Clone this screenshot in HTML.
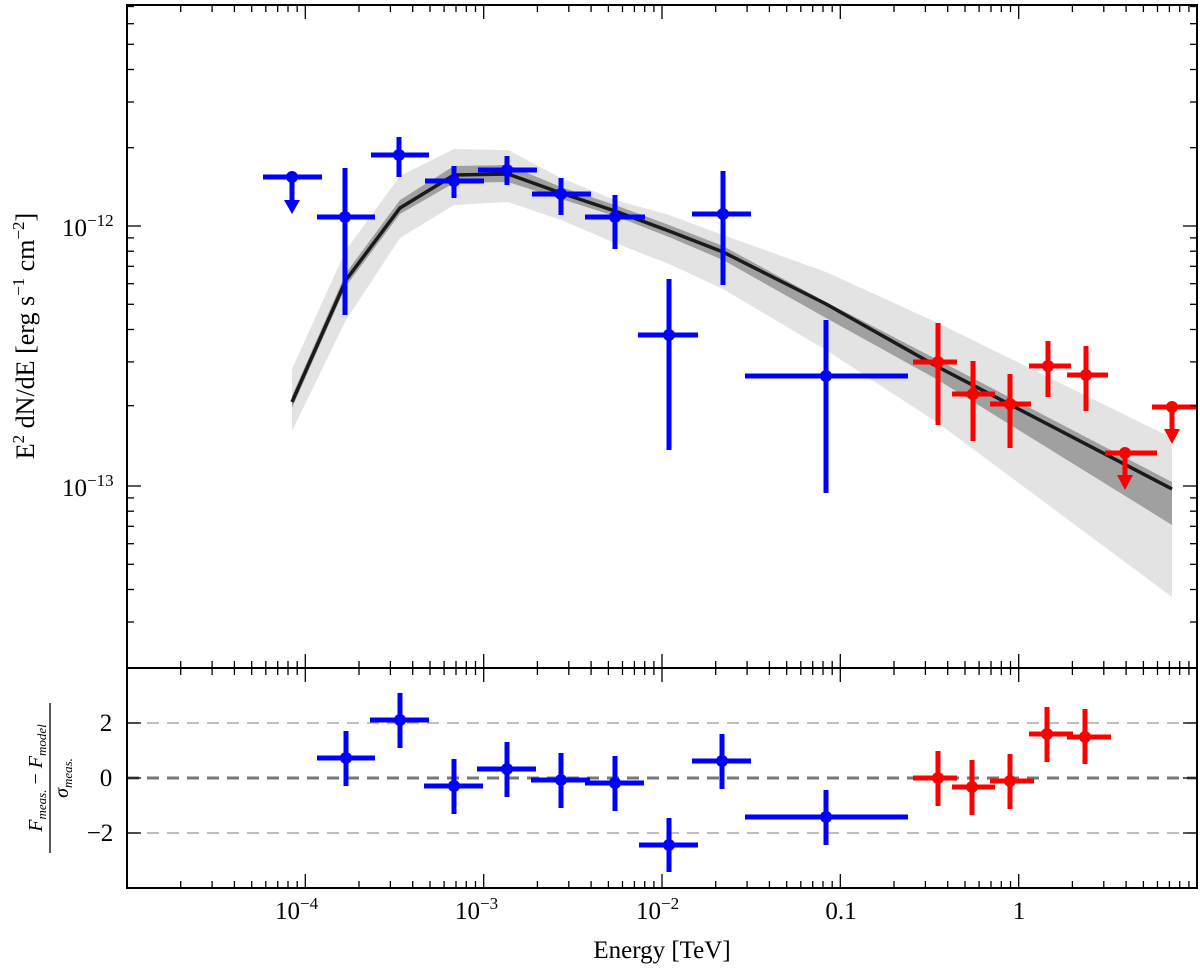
<!DOCTYPE html>
<html><head><meta charset="utf-8"><style>body{margin:0;background:#fff}svg{display:block}text{font-family:"Liberation Serif",serif;fill:#000}</style></head><body>
<svg width="1200" height="969" viewBox="0 0 1200 969" xmlns="http://www.w3.org/2000/svg">
<defs>
<g id="dec" stroke="#000" stroke-width="1.3">
<line x1="0" y1="0" x2="0" y2="14"/>
<line x1="53.7" y1="0" x2="53.7" y2="7"/><line x1="85.1" y1="0" x2="85.1" y2="7"/><line x1="107.4" y1="0" x2="107.4" y2="7"/><line x1="124.7" y1="0" x2="124.7" y2="7"/><line x1="138.8" y1="0" x2="138.8" y2="7"/><line x1="150.7" y1="0" x2="150.7" y2="7"/><line x1="161" y1="0" x2="161" y2="7"/><line x1="170.2" y1="0" x2="170.2" y2="7"/>
</g>
<g id="row">
<use href="#dec" x="127"/><use href="#dec" x="305.3"/><use href="#dec" x="483.7"/><use href="#dec" x="662"/><use href="#dec" x="840.3"/><use href="#dec" x="1018.7"/>
</g>
<g id="yt" stroke="#000" stroke-width="1.3">
<line x1="0" y1="226" x2="14" y2="226"/><line x1="0" y1="486" x2="14" y2="486"/>
<line x1="0" y1="147.7" x2="7" y2="147.7"/><line x1="0" y1="102" x2="7" y2="102"/><line x1="0" y1="69.5" x2="7" y2="69.5"/><line x1="0" y1="44.3" x2="7" y2="44.3"/><line x1="0" y1="23.7" x2="7" y2="23.7"/><line x1="0" y1="6.5" x2="7" y2="6.5"/>
<line x1="0" y1="405.7" x2="7" y2="405.7"/><line x1="0" y1="361.9" x2="7" y2="361.9"/><line x1="0" y1="329.5" x2="7" y2="329.5"/><line x1="0" y1="304.3" x2="7" y2="304.3"/><line x1="0" y1="283.7" x2="7" y2="283.7"/><line x1="0" y1="266.3" x2="7" y2="266.3"/><line x1="0" y1="251.2" x2="7" y2="251.2"/><line x1="0" y1="237.9" x2="7" y2="237.9"/>
<line x1="0" y1="622" x2="7" y2="622"/><line x1="0" y1="589.5" x2="7" y2="589.5"/><line x1="0" y1="564.3" x2="7" y2="564.3"/><line x1="0" y1="543.7" x2="7" y2="543.7"/><line x1="0" y1="526.3" x2="7" y2="526.3"/><line x1="0" y1="511.2" x2="7" y2="511.2"/><line x1="0" y1="497.9" x2="7" y2="497.9"/>
<line x1="0" y1="723" x2="14" y2="723"/><line x1="0" y1="778" x2="14" y2="778"/><line x1="0" y1="833" x2="14" y2="833"/>
</g>
</defs>
<!-- bands -->
<polygon fill="#e3e3e3" points="292,369 346,250 400,176 454,149 508,150 561,178 615,200 669,215 723,235 826,272 938,323 1172,438 1172,597 938,423 826,350 723,289 669,264 615,243 561,220 508,202 454,205 400,238 346,320 292,431"/>
<polygon fill="#a0a0a0" points="292,396 346,273 400,200 454,166 508,165 561,187 615,205 669,225 723,246 826,302 938,360 1172,482 1172,525 938,380 826,318 723,260 669,237 615,216 561,199 508,182 454,183 400,214 346,286 292,408"/>
<polyline fill="none" stroke="#1a1a1a" stroke-width="3.5" points="292,402 346,280 400,208 454,175 508,174 561,193 615,211 669,231 723,252 826,304 938,367 1172,489"/>
<!-- residual lines -->
<line x1="127" y1="723" x2="1197" y2="723" stroke="#aaa" stroke-width="1.5" stroke-dasharray="12,8"/>
<line x1="127" y1="833" x2="1197" y2="833" stroke="#aaa" stroke-width="1.5" stroke-dasharray="12,8"/>
<line x1="127" y1="778" x2="1197" y2="778" stroke="#777" stroke-width="3" stroke-dasharray="12,8"/>
<!-- main data blue -->
<g stroke="#0000ff" stroke-width="5" fill="#0000ff">
<line x1="263" y1="177" x2="322" y2="177"/><line x1="292" y1="177" x2="292" y2="202"/><polygon points="284,200 300,200 292,214" stroke="none"/><circle cx="292" cy="177" r="6" stroke="none"/>
<line x1="317" y1="217" x2="375" y2="217"/><line x1="345" y1="168" x2="345" y2="315"/><circle cx="345" cy="217" r="6" stroke="none"/>
<line x1="371" y1="155" x2="429" y2="155"/><line x1="399" y1="137" x2="399" y2="177"/><circle cx="399" cy="155" r="6" stroke="none"/>
<line x1="425" y1="181" x2="484" y2="181"/><line x1="454" y1="166" x2="454" y2="198"/><circle cx="454" cy="181" r="6" stroke="none"/>
<line x1="478" y1="170" x2="537" y2="170"/><line x1="507" y1="156" x2="507" y2="185"/><circle cx="507" cy="170" r="6" stroke="none"/>
<line x1="532" y1="194" x2="591" y2="194"/><line x1="561" y1="178" x2="561" y2="215"/><circle cx="561" cy="194" r="6" stroke="none"/>
<line x1="585" y1="217" x2="645" y2="217"/><line x1="615" y1="195" x2="615" y2="249"/><circle cx="615" cy="217" r="6" stroke="none"/>
<line x1="638" y1="335" x2="698" y2="335"/><line x1="669" y1="279" x2="669" y2="450"/><circle cx="669" cy="335" r="6" stroke="none"/>
<line x1="692" y1="214" x2="751" y2="214"/><line x1="723" y1="171" x2="723" y2="285"/><circle cx="723" cy="214" r="6" stroke="none"/>
<line x1="745" y1="376" x2="908" y2="376"/><line x1="826" y1="320" x2="826" y2="493"/><circle cx="826" cy="376" r="6" stroke="none"/>
</g>
<g stroke="#ff0000" stroke-width="5" fill="#ff0000">
<line x1="913" y1="362" x2="957" y2="362"/><line x1="938" y1="323" x2="938" y2="425"/><circle cx="938" cy="362" r="6" stroke="none"/>
<line x1="952" y1="394" x2="995" y2="394"/><line x1="973" y1="361" x2="973" y2="441"/><circle cx="973" cy="394" r="6" stroke="none"/>
<line x1="990" y1="404" x2="1031" y2="404"/><line x1="1010" y1="374" x2="1010" y2="448"/><circle cx="1010" cy="404" r="6" stroke="none"/>
<line x1="1029" y1="366" x2="1071" y2="366"/><line x1="1048" y1="341" x2="1048" y2="397"/><circle cx="1048" cy="366" r="6" stroke="none"/>
<line x1="1067" y1="375" x2="1108" y2="375"/><line x1="1086" y1="346" x2="1086" y2="411"/><circle cx="1086" cy="375" r="6" stroke="none"/>
<line x1="1105" y1="453" x2="1157" y2="453"/><line x1="1125" y1="453" x2="1125" y2="477"/><polygon points="1117,475 1133,475 1125,490" stroke="none"/><circle cx="1125" cy="453" r="6" stroke="none"/>
<line x1="1152" y1="407" x2="1197" y2="407"/><line x1="1172" y1="407" x2="1172" y2="431"/><polygon points="1164,429 1180,429 1172,444" stroke="none"/><circle cx="1172" cy="407" r="6" stroke="none"/>
</g>
<!-- residual data -->
<g stroke="#0000ff" stroke-width="5" fill="#0000ff">
<line x1="317" y1="758" x2="375" y2="758"/><line x1="346" y1="731" x2="346" y2="786"/><circle cx="346" cy="758" r="6" stroke="none"/>
<line x1="370" y1="720" x2="429" y2="720"/><line x1="400" y1="693" x2="400" y2="748"/><circle cx="400" cy="720" r="6" stroke="none"/>
<line x1="424" y1="786" x2="483" y2="786"/><line x1="454" y1="759" x2="454" y2="814"/><circle cx="454" cy="786" r="6" stroke="none"/>
<line x1="477" y1="769" x2="536" y2="769"/><line x1="507" y1="742" x2="507" y2="797"/><circle cx="507" cy="769" r="6" stroke="none"/>
<line x1="531" y1="780" x2="590" y2="780"/><line x1="561" y1="753" x2="561" y2="808"/><circle cx="561" cy="780" r="6" stroke="none"/>
<line x1="585" y1="783" x2="644" y2="783"/><line x1="615" y1="756" x2="615" y2="811"/><circle cx="615" cy="783" r="6" stroke="none"/>
<line x1="639" y1="845" x2="698" y2="845"/><line x1="669" y1="818" x2="669" y2="872"/><circle cx="669" cy="845" r="6" stroke="none"/>
<line x1="692" y1="761" x2="751" y2="761"/><line x1="722" y1="734" x2="722" y2="789"/><circle cx="722" cy="761" r="6" stroke="none"/>
<line x1="745" y1="817" x2="908" y2="817"/><line x1="826" y1="790" x2="826" y2="845"/><circle cx="826" cy="817" r="6" stroke="none"/>
</g>
<g stroke="#ff0000" stroke-width="5" fill="#ff0000">
<line x1="913" y1="778" x2="957" y2="778"/><line x1="938" y1="751" x2="938" y2="806"/><circle cx="938" cy="778" r="6" stroke="none"/>
<line x1="952" y1="787" x2="995" y2="787"/><line x1="972" y1="760" x2="972" y2="815"/><circle cx="972" cy="787" r="6" stroke="none"/>
<line x1="990" y1="781" x2="1034" y2="781"/><line x1="1010" y1="754" x2="1010" y2="809"/><circle cx="1010" cy="781" r="6" stroke="none"/>
<line x1="1029" y1="734" x2="1073" y2="734"/><line x1="1047" y1="707" x2="1047" y2="762"/><circle cx="1047" cy="734" r="6" stroke="none"/>
<line x1="1067" y1="737" x2="1111" y2="737"/><line x1="1085" y1="709" x2="1085" y2="764"/><circle cx="1085" cy="737" r="6" stroke="none"/>
</g>
<!-- ticks -->
<use href="#row" transform="translate(0,5)"/>
<use href="#row" transform="translate(0,668) scale(1,-1)"/>
<use href="#row" transform="translate(0,668)"/>
<use href="#row" transform="translate(0,888) scale(1,-1)"/>
<use href="#yt" transform="translate(127,0)"/>
<use href="#yt" transform="translate(1197,0) scale(-1,1)"/>
<!-- frames -->
<rect x="127" y="5" width="1070" height="663" fill="none" stroke="#000" stroke-width="2"/>
<rect x="127" y="668" width="1070" height="220" fill="none" stroke="#000" stroke-width="2"/>
<!-- labels -->
<g font-size="25">
<text x="62" y="236">10<tspan font-size="17" dy="-10">−12</tspan></text>
<text x="62" y="496">10<tspan font-size="17" dy="-10">−13</tspan></text>
<text x="106" y="731" text-anchor="middle">2</text>
<text x="106" y="786" text-anchor="middle">0</text>
<text x="100" y="841" text-anchor="middle">−2</text>
<text x="275" y="919">10<tspan font-size="17" dy="-10">−4</tspan></text>
<text x="455" y="919">10<tspan font-size="17" dy="-10">−3</tspan></text>
<text x="636" y="919">10<tspan font-size="17" dy="-10">−2</tspan></text>
<text x="841" y="919" text-anchor="middle">0.1</text>
<text x="1019" y="919" text-anchor="middle">1</text>
<text x="662" y="958" text-anchor="middle">Energy [TeV]</text>
<text transform="translate(34,336) rotate(-90)" text-anchor="middle" font-size="26">E<tspan font-size="17" dy="-10">2</tspan><tspan dy="10"> dN/dE [erg s</tspan><tspan font-size="17" dy="-10">−1</tspan><tspan dy="10"> cm</tspan><tspan font-size="17" dy="-10">−2</tspan><tspan dy="10">]</tspan></text>
</g>
<g transform="translate(50,778) rotate(-90)" font-size="20" font-style="italic">
<text x="0" y="-8" text-anchor="middle">F<tspan font-size="13" dy="4">meas.</tspan><tspan dy="-4" font-style="normal"> − </tspan>F<tspan font-size="13" dy="4">model</tspan></text>
<line x1="-75" y1="0" x2="75" y2="0" stroke="#000" stroke-width="1.3"/>
<text x="0" y="18" text-anchor="middle">σ<tspan font-size="13" dy="4">meas.</tspan></text>
</g>
</svg>
</body></html>
